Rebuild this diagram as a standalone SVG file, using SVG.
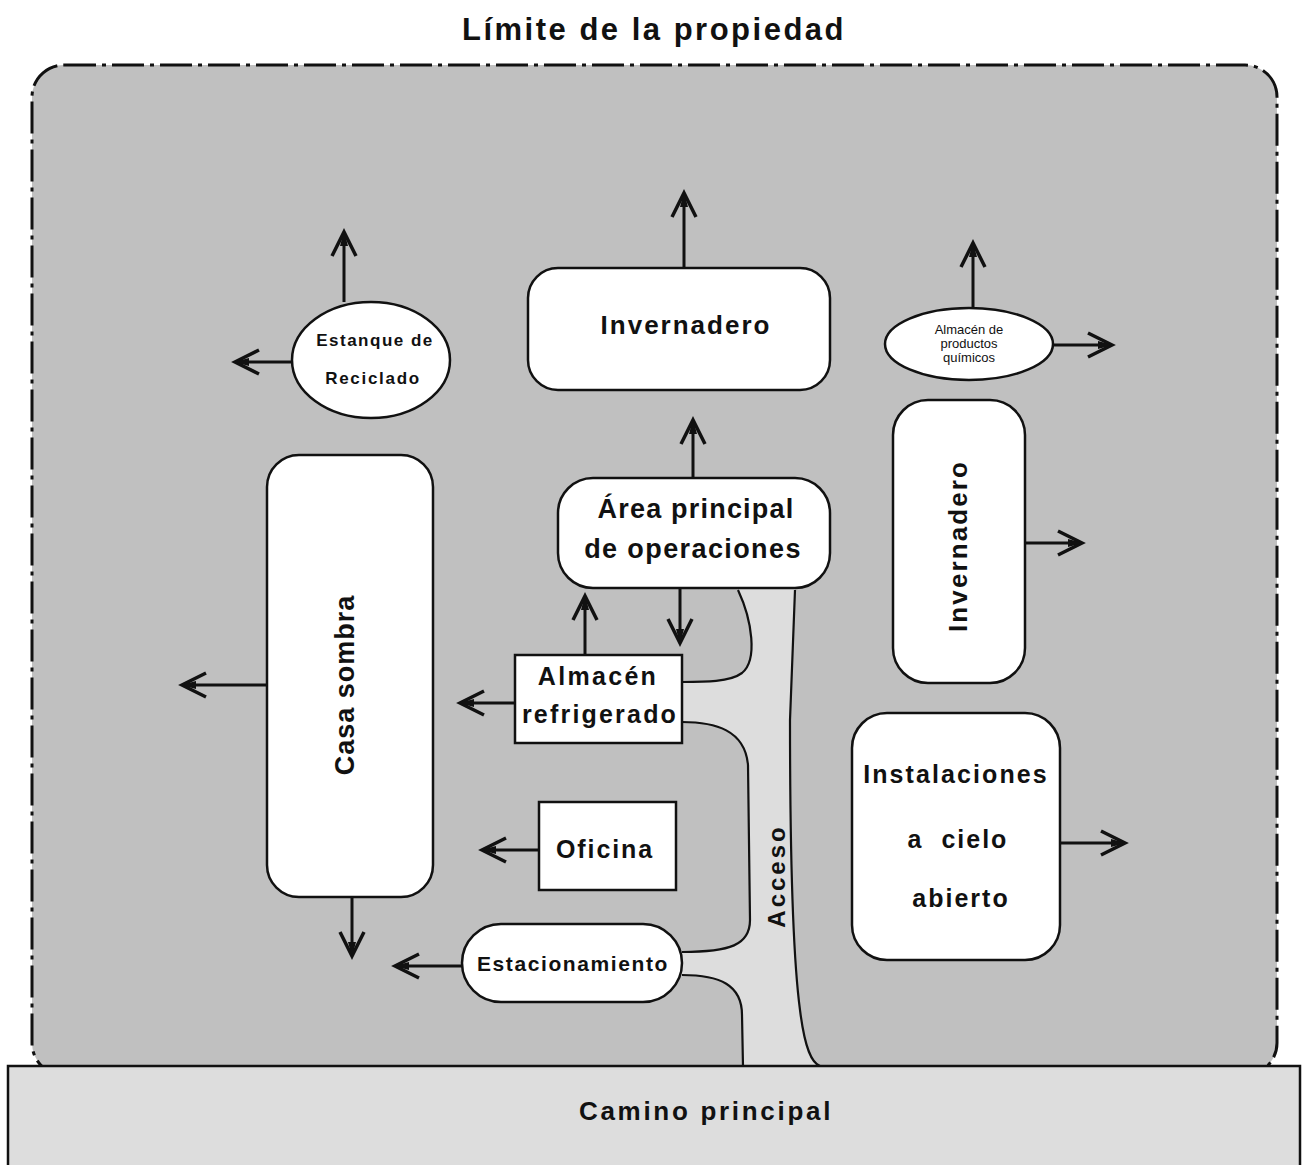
<svg xmlns="http://www.w3.org/2000/svg" width="1308" height="1165" viewBox="0 0 1308 1165">
<defs>
<style>
text{font-family:"Liberation Sans",Arial,sans-serif;font-weight:bold;fill:#111;text-anchor:middle}
.thin{font-weight:normal}
.box{fill:#fff;stroke:#111;stroke-width:2.5}
.arr{stroke:#111;stroke-width:3;fill:none;marker-end:url(#ah)}
.edge{stroke:#111;stroke-width:2.2;fill:none}
</style>
<marker id="ah" markerUnits="userSpaceOnUse" markerWidth="40" markerHeight="40" refX="0" refY="0" viewBox="-30 -20 40 40" orient="auto" overflow="visible">
<path d="M-24,-12 L0,0 L-24,12" fill="none" stroke="#111" stroke-width="3.5" stroke-linejoin="miter"/>
<path d="M-14,-4 L1,0 L-14,4 Z" fill="#111"/>
</marker>
</defs>
<rect width="1308" height="1165" fill="#fff"/>
<text x="654" y="40" font-size="31" letter-spacing="2.5">Límite de la propiedad</text>
<g id="propiedad">
<rect x="32" y="65" width="1245" height="1010" rx="32" fill="#c0c0c0" stroke="#111" stroke-width="3" stroke-dasharray="32 6 4 6"/>
</g>
<g id="acceso">
<path d="M738,588 C752,620 758,660 742,673 C730,682 705,682 682,682 L682,722 C715,722 745,730 748,765 L750,920 C750,945 730,952 682,952 L682,975 C720,975 742,985 742,1015 L743,1068 L820,1068 C812,1063 805,1050 800,1010 C792,950 790,850 790,720 L795,588 Z" fill="#dddddd"/>
<text transform="translate(785,876) rotate(-90)" font-size="24" letter-spacing="3">Acceso</text>
</g>
<g id="camino">
<rect x="8" y="1066" width="1292" height="110" fill="#dddddd" stroke="#111" stroke-width="2.5"/>
<text x="706" y="1120" font-size="26" letter-spacing="2.7">Camino principal</text>
</g>
<g id="connectors">
<path class="edge" d="M738,590 C752,620 758,660 742,673 C730,682 705,682 682,682"/>
<path class="edge" d="M682,722 C715,722 745,730 748,765 L750,920 C750,945 730,952 682,952"/>
<path class="edge" d="M682,975 C720,975 742,985 742,1015 L743,1066"/>
<path class="edge" d="M795,590 L790,720 C790,850 792,950 800,1010 C805,1050 812,1063 820,1066"/>
<line class="arr" x1="344" y1="302" x2="344" y2="232"/>
<line class="arr" x1="292" y1="362" x2="235" y2="362"/>
<line class="arr" x1="684" y1="268" x2="684" y2="193"/>
<line class="arr" x1="693" y1="478" x2="693" y2="420"/>
<line class="arr" x1="680" y1="588" x2="680" y2="643"/>
<line class="arr" x1="585" y1="655" x2="585" y2="596"/>
<line class="arr" x1="973" y1="308" x2="973" y2="243"/>
<line class="arr" x1="1053" y1="345" x2="1112" y2="345"/>
<line class="arr" x1="1025" y1="543" x2="1082" y2="543"/>
<line class="arr" x1="1060" y1="843" x2="1125" y2="843"/>
<line class="arr" x1="267" y1="685" x2="182" y2="685"/>
<line class="arr" x1="352" y1="897" x2="352" y2="956"/>
<line class="arr" x1="515" y1="703" x2="460" y2="703"/>
<line class="arr" x1="539" y1="850" x2="482" y2="850"/>
<line class="arr" x1="462" y1="966" x2="395" y2="966"/>
</g>
<g id="estanque">
<ellipse class="box" cx="371" cy="360" rx="79" ry="58"/>
<text x="375" y="346" font-size="17" letter-spacing="1.5">Estanque de</text>
<text x="373" y="384" font-size="17" letter-spacing="1.7">Reciclado</text>
</g>
<g id="invernadero1">
<rect class="box" x="528" y="268" width="302" height="122" rx="30"/>
<text x="686" y="334" font-size="26" letter-spacing="2">Invernadero</text>
</g>
<g id="quimicos">
<ellipse class="box" cx="969" cy="344" rx="84" ry="36"/>
<text class="thin" x="969" y="334" font-size="13">Almacén de</text>
<text class="thin" x="969" y="348" font-size="13">productos</text>
<text class="thin" x="969" y="362" font-size="13">químicos</text>
</g>
<g id="area-principal">
<rect class="box" x="558" y="478" width="272" height="110" rx="35"/>
<text x="696" y="518" font-size="27" letter-spacing="1.2">Área principal</text>
<text x="693" y="558" font-size="27" letter-spacing="1.4">de operaciones</text>
</g>
<g id="invernadero2">
<rect class="box" x="893" y="400" width="132" height="283" rx="35"/>
<text transform="translate(967,546) rotate(-90)" font-size="26" letter-spacing="2.1">Invernadero</text>
</g>
<g id="casa-sombra">
<rect class="box" x="267" y="455" width="166" height="442" rx="32"/>
<text transform="translate(354,685) rotate(-90)" font-size="27" letter-spacing="1">Casa sombra</text>
</g>
<g id="almacen-refrigerado">
<rect class="box" x="515" y="655" width="167" height="88"/>
<text x="598" y="685" font-size="25" letter-spacing="2.3">Almacén</text>
<text x="600" y="723" font-size="25" letter-spacing="2.2">refrigerado</text>
</g>
<g id="oficina">
<rect class="box" x="539" y="802" width="137" height="88"/>
<text x="605" y="858" font-size="25" letter-spacing="1.9">Oficina</text>
</g>
<g id="estacionamiento">
<rect class="box" x="462" y="924" width="220" height="78" rx="39"/>
<text x="573" y="971" font-size="21" letter-spacing="1.6">Estacionamiento</text>
</g>
<g id="instalaciones">
<rect class="box" x="852" y="713" width="208" height="247" rx="35"/>
<text x="956" y="783" font-size="25" letter-spacing="2.1">Instalaciones</text>
<text x="958" y="848" font-size="25" letter-spacing="2" xml:space="preserve" style="white-space:pre">a  cielo</text>
<text x="961" y="907" font-size="25" letter-spacing="2">abierto</text>
</g>
</svg>
